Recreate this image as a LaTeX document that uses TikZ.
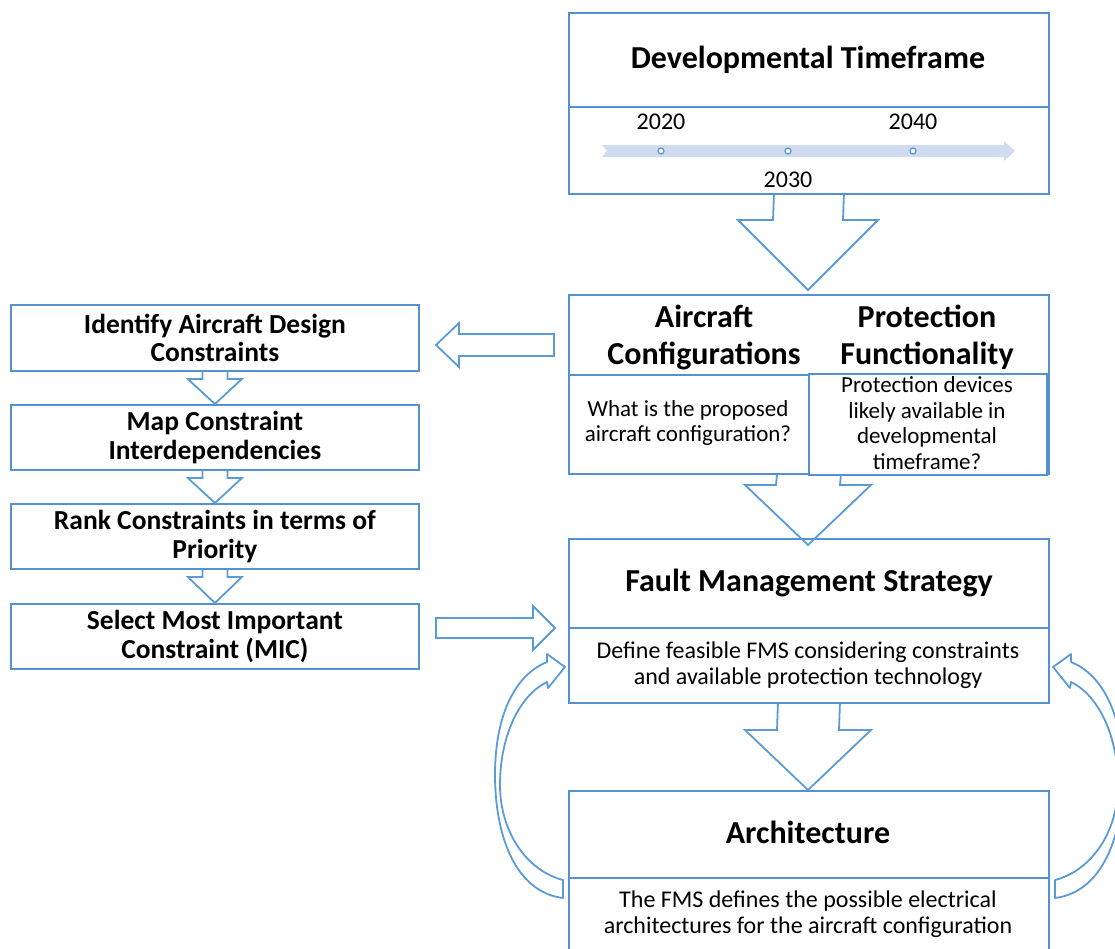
\documentclass[tikz,border=0pt]{standalone}
\usepackage{fontspec}
\setmainfont{Carlito}
\usetikzlibrary{calc}
\definecolor{boxblue}{HTML}{5590D0}
\definecolor{arrblue}{HTML}{5B9BD5}
\definecolor{tlband}{HTML}{CFDBEE}
\newcommand{\downblk}[5]{%
  \draw[barrow] ($(#1)+(-#3,0)$) -- ($(#2)+(-#3,-#5)$) -- ($(#2)+(-#4,-#5)$) -- (#2)
    -- ($(#2)+(#4,-#5)$) -- ($(#2)+(#3,-#5)$) -- ($(#1)+(#3,0)$);}
\begin{document}
\begin{tikzpicture}[x=1pt,y=-1pt,
  box/.style={draw=boxblue,line width=1.8pt,inner sep=0pt,anchor=north west,fill=white},
  barrow/.style={draw=arrblue,line width=1.8pt,line join=miter},
  ttl/.style={font=\fontsize{32}{37}\selectfont\bfseries,align=center,inner sep=0pt},
  ltxt/.style={font=\fontsize{27.5}{28.5}\selectfont\bfseries,align=center},
  mtxt/.style={font=\fontsize{23}{25.5}\selectfont,align=center,inner sep=0pt},
  stxt/.style={font=\fontsize{24}{26}\selectfont,align=center,inner sep=0pt},
  yr/.style={font=\fontsize{24}{26}\selectfont,inner sep=0pt},
  dot/.style={circle,draw=arrblue,line width=1.3pt,fill=white,minimum size=6pt,inner sep=0pt}]
\useasboundingbox (0,0) rectangle (1115,948);
\clip (0,0) rectangle (1115,948);

% ---------- right column boxes ----------
\node[box,minimum width=480,minimum height=181] (tf) at (568,12) {};
\draw[boxblue,line width=1.8pt] (tf.west |- 0,107) -- (tf.east |- 0,107);
\node[ttl] (tftitle) at (808,60) {Developmental Timeframe};

\fill[tlband] (602,145) -- (1004,145) -- (1004,141) -- (1015,151) -- (1004,161) -- (1004,157) -- (602,157) -- (607,151) -- cycle;
\node[dot] (d1) at (661,151) {};
\node[dot] (d2) at (788,151) {};
\node[dot] (d3) at (913,151) {};
\node[yr] (y1) at (661,122) {2020};
\node[yr] (y3) at (913,122) {2040};
\node[yr] (y2) at (788,180) {2030};

\node[box,minimum width=480,minimum height=179] (ac) at (568,294) {};
\draw[boxblue,line width=1.8pt] (568,375) -- (808,375);
\node[box,minimum width=238,minimum height=101] (pf) at (808,373) {};
\node[ttl] (actitle) at (704,337) {Aircraft\\Configurations};
\node[ttl] (pftitle) at (927,337) {Protection\\Functionality};
\node[mtxt] (actext) at (688,423) {What is the proposed\\aircraft configuration?};
\node[mtxt] (pftext) at (927,423) {Protection devices\\likely available in\\developmental\\timeframe?};

\node[box,minimum width=480,minimum height=164] (fms) at (568,538) {};
\draw[boxblue,line width=1.8pt] (568,628) -- (1048,628);
\node[ttl] (fmstitle) at (809,583) {Fault Management Strategy};
\node[stxt] (fmstext) at (808,665) {Define feasible FMS considering constraints\\and available protection technology};

\node[box,minimum width=480,minimum height=175] (arch) at (568,790) {};
\draw[boxblue,line width=1.8pt] (568,878) -- (1048,878);
\node[ttl] (archtitle) at (808,832) {Architecture};
\node[stxt] (archtext) at (808,914) {The FMS defines the possible electrical\\architectures for the aircraft configuration};

% ---------- left column boxes ----------
\node[box,ltxt,minimum width=408,minimum height=66] (c1) at (10,304) {Identify Aircraft Design\\Constraints};
\node[box,ltxt,minimum width=408,minimum height=65] (c2) at (10,404) {Map Constraint\\Interdependencies};
\node[box,ltxt,minimum width=408,minimum height=65] (c3) at (10,503) {Rank Constraints in terms of\\Priority};
\node[box,ltxt,minimum width=408,minimum height=65] (c4) at (10,603) {Select Most Important\\Constraint (MIC)};

% ---------- block arrows ----------
\coordinate (tip1) at (808,290);
\downblk{tf.south}{tip1}{35}{70}{70}
\coordinate (tip2) at (808,545);
\downblk{ac.south}{tip2}{32}{63}{60}
\coordinate (tip3) at (808,790);
\downblk{fms.south}{tip3}{31}{63}{60}

\downblk{c1.south}{c2.north}{12.5}{27}{25}
\downblk{c2.south}{c3.north}{12.5}{27}{25}
\downblk{c3.south}{c4.north}{12.5}{27}{26}

\draw[barrow] (554,334) -- (459,334) -- (459,323) -- (436,345) -- (459,367) -- (459,356) -- (554,356) -- cycle;
\draw[barrow] (436,618) -- (533,618) -- (533,606) -- (555,628) -- (533,650) -- (533,638) -- (436,638) -- cycle;

% ---------- curved feedback arrows ----------
\draw[barrow,line join=round] (563,898) .. controls (515,892) and (495,835) .. (495,775)
  .. controls (495,715) and (515,675) .. (547,662) -- (547,654) -- (565,667) -- (548,688) -- (547,682)
  .. controls (520,695) and (500,735) .. (500,785) .. controls (500,830) and (525,870) .. (563,880) -- cycle;
\draw[barrow,line join=round] (1055,898) .. controls (1103,892) and (1123,835) .. (1123,775)
  .. controls (1123,715) and (1103,675) .. (1071,662) -- (1071,654) -- (1053,667) -- (1070,688) -- (1071,682)
  .. controls (1098,695) and (1118,735) .. (1118,785) .. controls (1118,830) and (1093,870) .. (1055,880) -- cycle;
\end{tikzpicture}
\end{document}
